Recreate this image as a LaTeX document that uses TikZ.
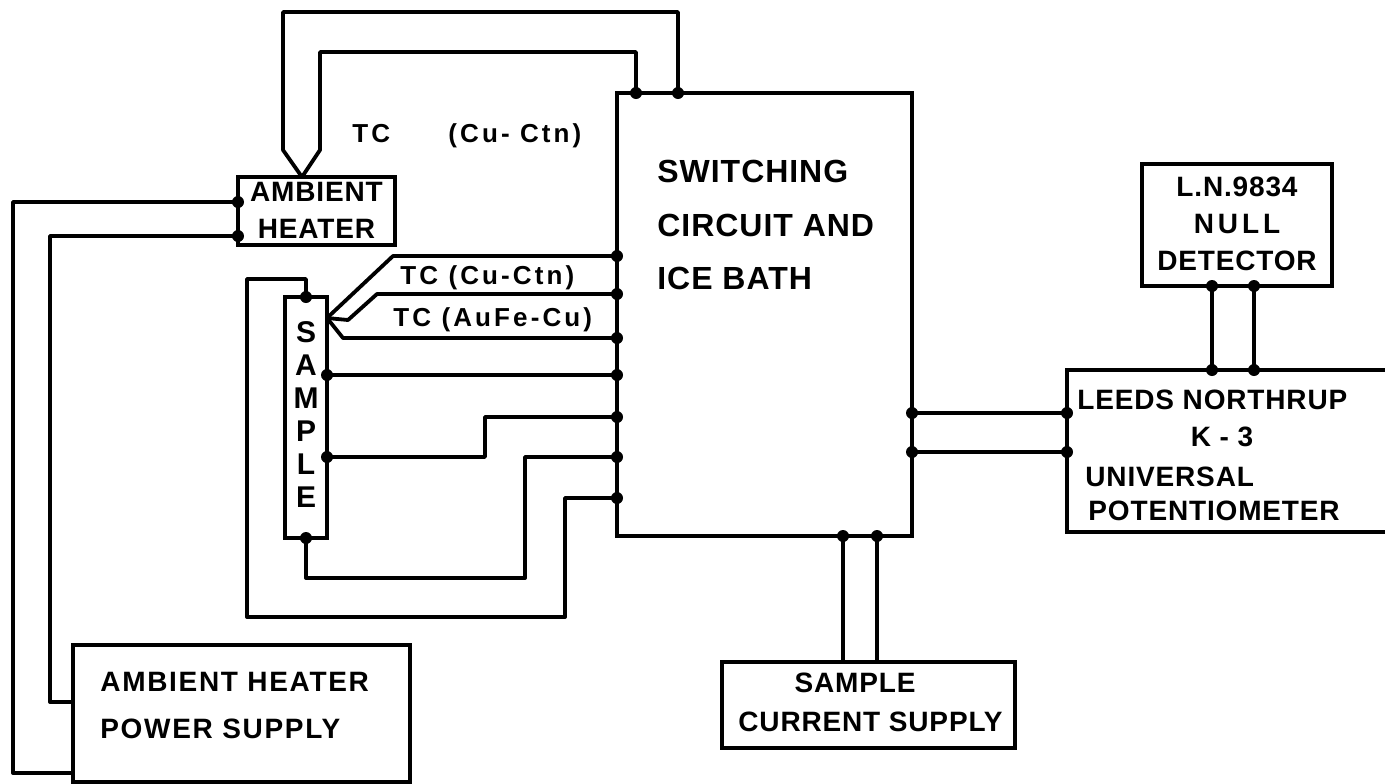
\documentclass[tikz,border=0pt]{standalone}
\usepackage{fontspec}
\setmainfont{Liberation Sans}[LetterSpace=3]
\usetikzlibrary{positioning, calc}
\tikzset{
  unit/.style={rectangle, draw, line width=1.9pt, inner sep=0pt, outer sep=0pt},
  wire/.style={line width=1.9pt, line join=round},
  lbig/.style={font=\bfseries\fontsize{16}{19}\selectfont, inner sep=0pt, text depth=0pt},
  lbox/.style={font=\bfseries\fontsize{14}{18.5}\selectfont, inner sep=0pt, text depth=0pt},
  lsmall/.style={font=\bfseries\fontsize{13}{16}\selectfont\addfontfeature{LetterSpace=12}, inner sep=0pt, text depth=0pt},
}

\begin{document}
\begin{tikzpicture}[x=0.5pt, y=-0.5pt]
  \useasboundingbox (0,0) rectangle (1385,783);
  \clip (0,0) rectangle (1385,783);

  % Units
  \node[unit, minimum width=147.5pt, minimum height=221.5pt] (sw) at (764.5,314.5) {};
  \node[unit, minimum width=78.5pt, minimum height=34pt] (heater) at (316.5,211) {};
  \node[unit, minimum width=21pt, minimum height=120.5pt] (sample) at (306,417.5) {};
  \node[unit, minimum width=168.5pt, minimum height=68.5pt] (psu) at (241.5,713.5) {};
  \node[unit, minimum width=146.5pt, minimum height=43pt] (isup) at (868.5,705) {};
  \node[unit, minimum width=95pt, minimum height=61pt] (null) at (1237,225) {};
  \node[unit, minimum width=170pt, minimum height=81pt] (leeds) at (1237,451) {};

  % Labels
  \node[lbig, anchor=west] (swa) at (657,171) {SWITCHING};
  \node[lbig, anchor=west] (swb) at (657,225) {CIRCUIT AND};
  \node[lbig, anchor=west] (swc) at (657,278) {ICE BATH};
  \node[lbox, align=center] (heatertxt) at (316.5,210) {AMBIENT\\HEATER};
  \node[lbox, align=center] (nulltxt) at (1237,224)
    {L.N.9834\\{\addfontfeature{LetterSpace=14}NULL}\\DETECTOR};
  \node[lbox, anchor=west] (leeds1) at (1077,400) {LEEDS NORTHRUP};
  \node[lbox] (leeds2) at (1222,437) {K - 3};
  \node[lbox, anchor=west] (leeds3) at (1085,477) {UNIVERSAL};
  \node[lbox, anchor=west] (leeds4) at (1088,511) {POTENTIOMETER};
  \node[lbox, anchor=west, font=\bfseries\fontsize{14}{18.5}\selectfont\addfontfeature{LetterSpace=6}] (psu1) at (100,682) {AMBIENT HEATER};
  \node[lbox, anchor=west, font=\bfseries\fontsize{14}{18.5}\selectfont\addfontfeature{LetterSpace=6}] (psu2) at (100,729) {POWER SUPPLY};
  \node[lbox] (isup1) at (855,683) {SAMPLE};
  \node[lbox, anchor=west] (isup2) at (738,722) {CURRENT SUPPLY};
  \foreach \ch [count=\i] in {S,A,M,P,L,E}
    \node[lbox, font=\bfseries\fontsize{15}{18.5}\selectfont] (smp\i) at (306,299+33*\i) {\ch};
  \node[lsmall, anchor=west] (tctop1) at (352,133) {TC};
  \node[lsmall, anchor=west] (tctop2) at (448,133) {(Cu- Ctn)};
  \node[lsmall, anchor=west] (tca) at (400,275) {TC (Cu-Ctn)};
  \node[lsmall, anchor=west] (tcb) at (393,317) {TC (AuFe-Cu)};

  % Ambient heater thermocouple
  \coordinate (hv) at ($(heater.north)+(-14.5,0)$);
  \draw[wire] (hv) -- ++(-19,-27) |- (678,12) -- (sw.north -| 678,0);
  \draw[wire] (hv) -- ++(18,-27) |- (636,52) -- (sw.north -| 636,0);

  % Heater supply
  \draw[wire] (heater.west |- 0,202) -| (13,773) -- (psu.west |- 0,773);
  \draw[wire] (heater.west |- 0,236) -| (50,702) -- (psu.west |- 0,702);

  % Sample leads
  \coordinate (tcj) at (sample.east |- 0,318);
  \draw[wire] (tcj) -- (393,256) -- (sw.west |- 0,256);
  \draw[wire] (tcj) -- (348,320) -- (377,294) -- (sw.west |- 0,294);
  \draw[wire] (tcj) -- (343,338) -- (sw.west |- 0,338);
  \draw[wire] (sample.east |- 0,375) -- (sw.west |- 0,375);
  \draw[wire] (sample.east |- 0,457) -| (485,417) -- (sw.west |- 0,417);
  \draw[wire] (sample.south) |- (525,578) |- (sw.west |- 0,457);
  \draw[wire] (sample.north) |- (247,279) |- (565,617) |- (sw.west |- 0,498);

  % Potentiometer, detector, current supply
  \draw[wire] (sw.east |- 0,413) -- (leeds.west |- 0,413);
  \draw[wire] (sw.east |- 0,452) -- (leeds.west |- 0,452);
  \draw[wire] (null.south -| 1212,0) -- (leeds.north -| 1212,0);
  \draw[wire] (null.south -| 1254,0) -- (leeds.north -| 1254,0);
  \draw[wire] (sw.south -| 843,0) -- (isup.north -| 843,0);
  \draw[wire] (sw.south -| 877,0) -- (isup.north -| 877,0);

  % Terminals
  \foreach \y in {256,294,338,375,417,457,498}
    \fill (sw.west |- 0,\y) circle (3pt);
  \foreach \y in {413,452} {
    \fill (sw.east |- 0,\y) circle (3pt);
    \fill (leeds.west |- 0,\y) circle (3pt);
  }
  \foreach \x in {636,678} \fill (sw.north -| \x,0) circle (3pt);
  \foreach \x in {843,877} \fill (sw.south -| \x,0) circle (3pt);
  \foreach \x in {1212,1254} {
    \fill (null.south -| \x,0) circle (3pt);
    \fill (leeds.north -| \x,0) circle (3pt);
  }
  \foreach \y in {202,236} \fill (heater.west |- 0,\y) circle (3pt);
  \fill (sample.north) circle (3pt);
  \fill (sample.south) circle (3pt);
  \foreach \y in {375,457} \fill (sample.east |- 0,\y) circle (3pt);
\end{tikzpicture}
\end{document}
